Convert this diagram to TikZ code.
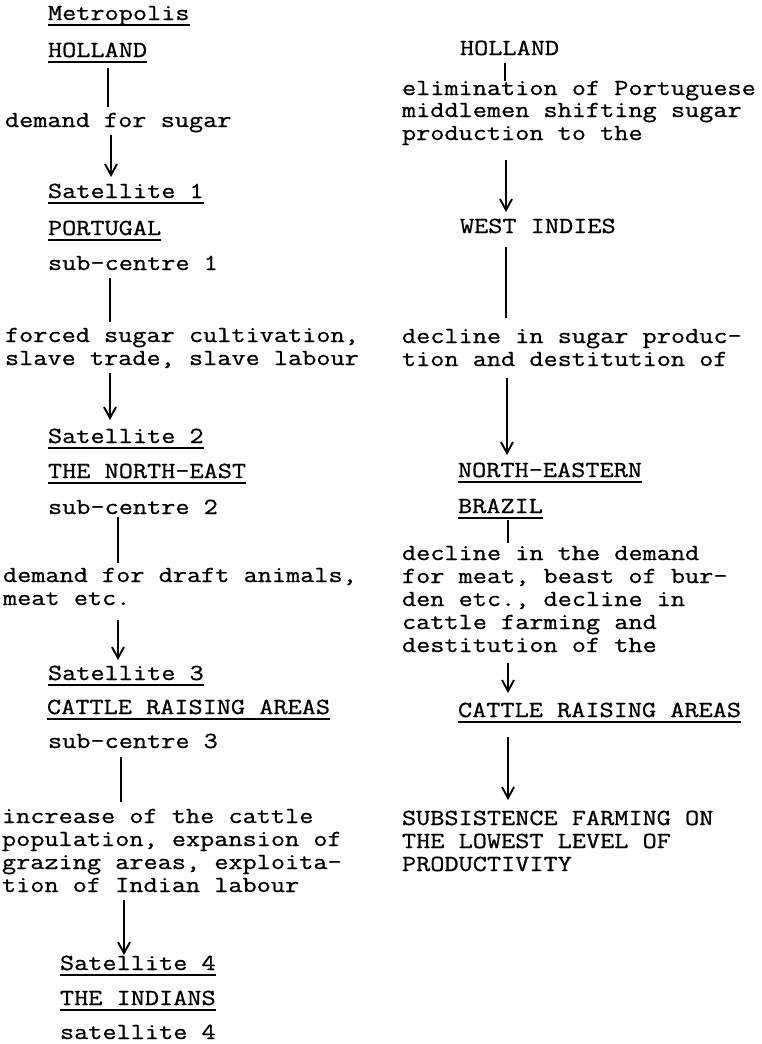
\documentclass[tikz,border=0pt]{standalone}
\usepackage{fontspec}
\usetikzlibrary{arrows.meta}
\newfontfamily\monofam[FakeStretch=1.195,FakeBold=0.8]{Latin Modern Mono}
\tikzset{
  txt/.style={anchor=base west, inner sep=0pt, outer sep=0pt, text height=14pt, text depth=0pt,
    font={\monofam\fontsize{23}{25}\selectfont}},
  ln/.style={line width=1.8pt},
  arr/.style={line width=1.8pt, -{Straight Barb[length=11pt,width=12pt,line width=1.9pt]}},
  ul/.style={line width=1.2pt}
}
\newcommand{\ulnode}[1]{\draw[ul] ([yshift=-5pt]#1.south west) -- ([yshift=-5pt]#1.south east);}
\begin{document}
\begin{tikzpicture}[x=1pt,y=-1pt]
\useasboundingbox (0,0) rectangle (762,1044);
% ---------- left column ----------
\node[txt] (metro) at (48,20) {Metropolis};
\node[txt] (hol1) at (48,57) {HOLLAND};
\node[txt] (lab1) at (5,127) {demand for sugar};
\node[txt] (sat1) at (48,198) {Satellite 1};
\node[txt] (port) at (48,235) {PORTUGAL};
\node[txt] (sub1) at (48,270) {sub-centre 1};
\node[txt] (lab2a) at (5,342) {forced sugar cultivation,};
\node[txt] (lab2b) at (5,365) {slave trade, slave labour};
\node[txt] (sat2) at (48,443) {Satellite 2};
\node[txt] (ne1) at (48,478) {THE NORTH-EAST};
\node[txt] (sub2) at (48,514) {sub-centre 2};
\node[txt] (lab3a) at (3,582) {demand for draft animals,};
\node[txt] (lab3b) at (3,605) {meat etc.};
\node[txt] (sat3) at (48,680) {Satellite 3};
\node[txt] (cra1) at (47,714) {CATTLE RAISING AREAS};
\node[txt] (sub3) at (48,748) {sub-centre 3};
\node[txt] (lab4a) at (2,823) {increase of the cattle};
\node[txt] (lab4b) at (2,846) {population, expansion of};
\node[txt] (lab4c) at (2,869) {grazing areas, exploita-};
\node[txt] (lab4d) at (2,892) {tion of Indian labour};
\node[txt] (sat4) at (60,970) {Satellite 4};
\node[txt] (ind) at (60,1005) {THE INDIANS};
\node[txt] (sat4b) at (60,1039) {satellite 4};
\foreach \n in {metro,hol1,sat1,port,sat2,ne1,sat3,cra1,sat4,ind} {\ulnode{\n}}
% ---------- right column ----------
\node[txt] (hol2) at (460,55) {HOLLAND};
\node[txt] (r1a) at (402,95) {elimination of Portuguese};
\node[txt] (r1b) at (402,117) {middlemen shifting sugar};
\node[txt] (r1c) at (402,140) {production to the};
\node[txt] (west) at (460,233) {WEST INDIES};
\node[txt] (r2a) at (402,343) {decline in sugar produc-};
\node[txt] (r2b) at (402,366) {tion and destitution of};
\node[txt] (ne2) at (458,477) {NORTH-EASTERN};
\node[txt] (braz) at (458,513) {BRAZIL};
\node[txt] (r3a) at (402,560) {decline in the demand};
\node[txt] (r3b) at (402,583) {for meat, beast of bur-};
\node[txt] (r3c) at (402,606) {den etc., decline in};
\node[txt] (r3d) at (402,629) {cattle farming and};
\node[txt] (r3e) at (402,652) {destitution of the};
\node[txt] (cra2) at (458,717) {CATTLE RAISING AREAS};
\node[txt] (subs1) at (402,825) {SUBSISTENCE FARMING ON};
\node[txt] (subs2) at (402,848) {THE LOWEST LEVEL OF};
\node[txt] (subs3) at (402,871) {PRODUCTIVITY};
\foreach \n in {ne2,braz,cra2} {\ulnode{\n}}
% ---------- connector x positions ----------
\coordinate (xc1) at (108,0);
\coordinate (xc2) at (111,0);
\coordinate (xc3) at (110,0);
\coordinate (xc5) at (118,0);
\coordinate (xc7) at (121,0);
\coordinate (xc8) at (124,0);
\coordinate (xr1) at (505,0);
\coordinate (xr2) at (506,0);
\coordinate (xr4) at (507,0);
\coordinate (xr5) at (508,0);
% ---------- left connectors ----------
\draw[ln, shorten <=11pt, shorten >=6pt] (hol1.south -| xc1) -- (lab1.north -| xc1);
\draw[arr, shorten <=8pt, shorten >=7pt] (lab1.south -| xc2) -- (sat1.north -| xc2);
\draw[ln, shorten <=8pt, shorten >=6pt] (sub1.south -| xc3) -- (lab2a.north -| xc3);
\draw[arr, shorten <=8pt, shorten >=9pt] (lab2b.south -| xc3) -- (sat2.north -| xc3);
\draw[ln, shorten <=3pt, shorten >=5pt] (sub2.south -| xc5) -- (lab3a.north -| xc5);
\draw[arr, shorten <=15pt, shorten >=6pt] (lab3b.south -| xc5) -- (sat3.north -| xc5);
\draw[ln, shorten <=9pt, shorten >=7pt] (sub3.south -| xc7) -- (lab4a.north -| xc7);
\draw[arr, shorten <=8pt, shorten >=1pt] (lab4d.south -| xc8) -- (sat4.north -| xc8);
% ---------- right connectors ----------
\draw[ln, shorten <=8pt, shorten >=0pt] (hol2.south -| xr1) -- (r1a.north -| xr1);
\draw[arr, shorten <=20pt, shorten >=7pt] (r1c.south -| xr2) -- (west.north -| xr2);
\draw[ln, shorten <=14pt, shorten >=11pt] (west.south -| xr2) -- (r2a.north -| xr2);
\draw[arr, shorten <=12pt, shorten >=8pt] (r2b.south -| xr4) -- (ne2.north -| xr4);
\draw[ln, shorten <=7pt, shorten >=3pt] (braz.south -| xr5) -- (r3a.north -| xr5);
\draw[arr, shorten <=11pt, shorten >=10pt] (r3e.south -| xr5) -- (cra2.north -| xr5);
\draw[arr, shorten <=20pt, shorten >=11pt] (cra2.south -| xr5) -- (subs1.north -| xr5);
\end{tikzpicture}
\end{document}
